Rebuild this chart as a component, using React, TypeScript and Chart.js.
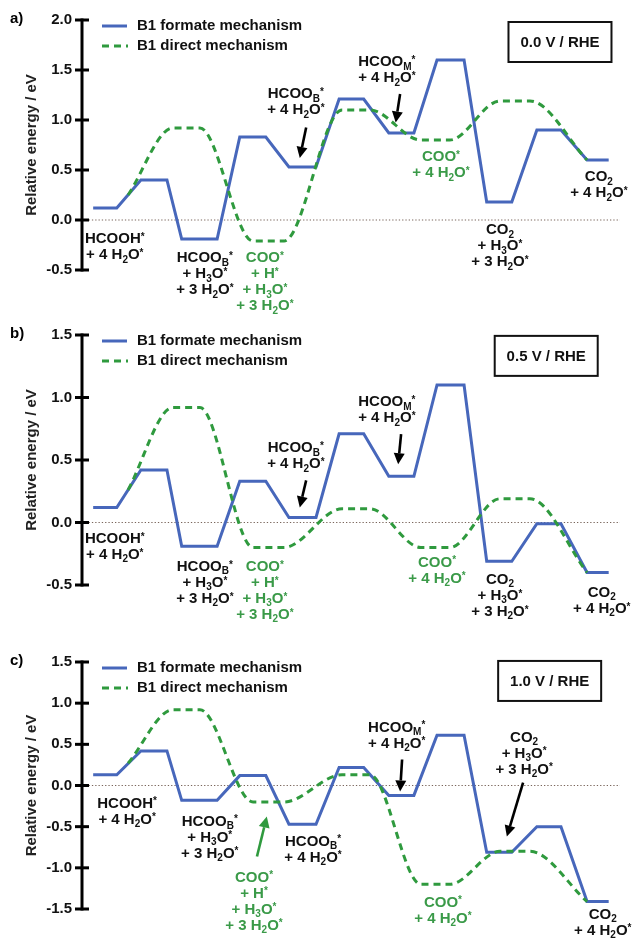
import React, { useEffect, useRef } from "react";
import { Chart, registerables } from "chart.js";
Chart.register(...registerables);

// ---- shared reaction-coordinate data ----
const levelLeft = [-0.24, 0.73, 1.56, 2.74, 3.74, 4.76, 5.77, 6.75, 7.76, 8.78, 9.8];
const levelRight = [0.24, 1.26, 2.28, 3.27, 4.29, 5.26, 6.28, 7.3, 8.27, 9.27, 10.24];
const directX = [0.47, 1.38, 1.93, 3.01, 3.64, 4.82, 5.39, 6.42, 7.01, 8.03, 8.64, 9.8];

// ---- panel a (0.0 V) ----
const formateA = [0.12, 0.4, -0.19, 0.83, 0.53, 1.21, 0.87, 1.6, 0.18, 0.9, 0.6];
const directA = [0.25, 0.92, 0.92, -0.21, -0.21, 1.1, 1.1, 0.8, 0.8, 1.19, 1.19, 0.6];
const ticksA = [-0.5, 0.0, 0.5, 1.0, 1.5, 2.0];
// ---- panel b (0.5 V) ----
const formateB = [0.12, 0.42, -0.19, 0.33, 0.04, 0.71, 0.37, 1.1, -0.31, -0.01, -0.4];
const directB = [0.26, 0.92, 0.92, -0.2, -0.2, 0.11, 0.11, -0.2, -0.2, 0.19, 0.19, -0.4];
const ticksB = [-0.5, 0.0, 0.5, 1.0, 1.5];
// ---- panel c (1.0 V) ----
const formateC = [0.13, 0.42, -0.18, 0.12, -0.47, 0.22, -0.12, 0.61, -0.81, -0.5, -1.41];
const directC = [0.27, 0.92, 0.92, -0.2, -0.2, 0.13, 0.13, -1.2, -1.2, -0.8, -0.8, -1.41];
const ticksC = [-1.5, -1.0, -0.5, 0.0, 0.5, 1.0, 1.5];

const seriesNames = ["B1 formate mechanism", "B1 direct mechanism"];
const panelLetters = ["a)", "b)", "c)"];
const potentials = ["0.0 V / RHE", "0.5 V / RHE", "1.0 V / RHE"];

const L_HCOOH = ["HCOOH^*", "+ 4 H_2O^*"];
const L_HCOOB3 = ["HCOO_B^*", "+ H_3O^*", "+ 3 H_2O^*"];
const L_COO4 = ["COO^*", "+ H^*", "+ H_3O^*", "+ 3 H_2O^*"];
const L_HCOOB2 = ["HCOO_B^*", "+ 4 H_2O^*"];
const L_HCOOM = ["HCOO_M^*", "+ 4 H_2O^*"];
const L_COO2 = ["COO^*", "+ 4 H_2O^*"];
const L_CO2_3 = ["CO_2", "+ H_3O^*", "+ 3 H_2O^*"];
const L_CO2_2 = ["CO_2", "+ 4 H_2O^*"];

const labelsA = [
  { x: 0.2, y: -0.19, lines: L_HCOOH, g: false },
  { x: 2.03, y: -0.38, lines: L_HCOOB3, g: false },
  { x: 3.25, y: -0.38, lines: L_COO4, g: true },
  { x: 3.88, y: 1.26, lines: L_HCOOB2, g: false },
  { x: 5.73, y: 1.58, lines: L_HCOOM, g: false },
  { x: 6.83, y: 0.63, lines: L_COO2, g: true },
  { x: 8.03, y: -0.1, lines: L_CO2_3, g: false },
  { x: 10.04, y: 0.43, lines: L_CO2_2, g: false },
];
const arrowsA = [
  { x1: 4.09, y1: 0.925, x2: 3.96, y2: 0.62, g: false },
  { x1: 6.0, y1: 1.26, x2: 5.91, y2: 0.975, g: false },
];
const labelsB = [
  { x: 0.2, y: -0.13, lines: L_HCOOH, g: false },
  { x: 2.03, y: -0.353, lines: L_HCOOB3, g: false },
  { x: 3.25, y: -0.353, lines: L_COO4, g: true },
  { x: 3.88, y: 0.594, lines: L_HCOOB2, g: false },
  { x: 5.73, y: 0.964, lines: L_HCOOM, g: false },
  { x: 6.75, y: -0.32, lines: L_COO2, g: true },
  { x: 8.03, y: -0.458, lines: L_CO2_3, g: false },
  { x: 10.1, y: -0.562, lines: L_CO2_2, g: false },
];
const arrowsB = [
  { x1: 4.09, y1: 0.337, x2: 3.96, y2: 0.12, g: false },
  { x1: 6.02, y1: 0.707, x2: 5.96, y2: 0.466, g: false },
];
const labelsC = [
  { x: 0.45, y: -0.219, lines: L_HCOOH, g: false },
  { x: 2.13, y: -0.437, lines: L_HCOOB3, g: false },
  { x: 3.03, y: -1.118, lines: L_COO4, g: true },
  { x: 4.23, y: -0.68, lines: L_HCOOB2, g: false },
  { x: 5.93, y: 0.705, lines: L_HCOOM, g: false },
  { x: 8.52, y: 0.583, lines: L_CO2_3, g: false },
  { x: 6.87, y: -1.42, lines: L_COO2, g: true },
  { x: 10.12, y: -1.567, lines: L_CO2_2, g: false },
];
const arrowsC = [
  { x1: 3.09, y1: -0.863, x2: 3.29, y2: -0.377, g: true },
  { x1: 6.04, y1: 0.316, x2: 6.0, y2: -0.073, g: false },
  { x1: 8.5, y1: 0.036, x2: 8.17, y2: -0.62, g: false },
];

const BLUE = "#4767bb";
const GREEN = "#2f9a3e";
const GREEN_TEXT = "#3a9a48";
const FONT = '"Liberation Sans", Arial, Helvetica, sans-serif';

const panels = [
  { formate: formateA, direct: directA, ticks: ticksA, labels: labelsA, arrows: arrowsA, box: { x: 9.25, y: 1.78 }, top: 0, height: 315, padTop: 20, padBottom: 45 },
  { formate: formateB, direct: directB, ticks: ticksB, labels: labelsB, arrows: arrowsB, box: { x: 8.97, y: 1.333 }, top: 315, height: 313, padTop: 20, padBottom: 43 },
  { formate: formateC, direct: directC, ticks: ticksC, labels: labelsC, arrows: arrowsC, box: { x: 9.04, y: 1.27 }, top: 628, height: 310, padTop: 34, padBottom: 29 },
];

function parseRich(text: string) {
  const segs: { t: string; k: string }[] = [];
  for (let i = 0; i < text.length; i++) {
    const c = text[i];
    if (c === "_" || c === "^") {
      segs.push({ t: text[i + 1], k: c === "_" ? "sub" : "sup" });
      i++;
    } else {
      const last = segs[segs.length - 1];
      if (last && last.k === "n") last.t += c;
      else segs.push({ t: c, k: "n" });
    }
  }
  return segs;
}

function drawRich(ctx: CanvasRenderingContext2D, text: string, cx: number, cy: number, size: number, color: string) {
  const segs = parseRich(text);
  const big = `bold ${size}px ${FONT}`;
  const small = `bold ${Math.round(size * 0.68)}px ${FONT}`;
  let total = 0;
  const widths = segs.map((s) => {
    ctx.font = s.k === "n" ? big : small;
    const w = ctx.measureText(s.t).width;
    total += w;
    return w;
  });
  let x = cx - total / 2;
  ctx.fillStyle = color;
  ctx.textAlign = "left";
  ctx.textBaseline = "middle";
  segs.forEach((s, i) => {
    ctx.font = s.k === "n" ? big : small;
    let dy = 0;
    if (s.k === "sub") dy = size * 0.32;
    if (s.k === "sup") dy = -size * 0.12;
    ctx.fillText(s.t, x, cy + dy);
    x += widths[i];
  });
}

function drawArrow(ctx: CanvasRenderingContext2D, x1: number, y1: number, x2: number, y2: number, color: string) {
  const ang = Math.atan2(y2 - y1, x2 - x1);
  const hl = 11;
  const hw = 5.5;
  const bx = x2 - hl * Math.cos(ang);
  const by = y2 - hl * Math.sin(ang);
  ctx.save();
  ctx.strokeStyle = color;
  ctx.fillStyle = color;
  ctx.lineWidth = 2.6;
  ctx.setLineDash([]);
  ctx.beginPath();
  ctx.moveTo(x1, y1);
  ctx.lineTo(bx, by);
  ctx.stroke();
  ctx.beginPath();
  ctx.moveTo(x2, y2);
  ctx.lineTo(bx + hw * Math.sin(ang), by - hw * Math.cos(ang));
  ctx.lineTo(bx - hw * Math.sin(ang), by + hw * Math.cos(ang));
  ctx.closePath();
  ctx.fill();
  ctx.restore();
}

function Panel({ idx }: { idx: number }) {
  const ref = useRef<HTMLCanvasElement | null>(null);
  const p = panels[idx];
  useEffect(() => {
    if (!ref.current) return;
    const formatePts: { x: number; y: number }[] = [];
    p.formate.forEach((e, i) => {
      formatePts.push({ x: levelLeft[i], y: e });
      formatePts.push({ x: levelRight[i], y: e });
    });
    const directPts = p.direct.map((e, i) => ({ x: directX[i], y: e }));

    const decor = {
      id: "decor",
      beforeDatasetsDraw(chart: any) {
        const { ctx, chartArea, scales } = chart;
        const y0 = scales.y.getPixelForValue(0);
        ctx.save();
        ctx.strokeStyle = "#7a665c";
        ctx.lineWidth = 1.2;
        ctx.setLineDash([1.3, 2]);
        ctx.beginPath();
        ctx.moveTo(chartArea.left, y0);
        ctx.lineTo(chartArea.right, y0);
        ctx.stroke();
        ctx.restore();
      },
      afterDraw(chart: any) {
        const { ctx, chartArea, scales } = chart;
        const xs = scales.x;
        const ys = scales.y;
        ctx.save();
        // axis line and crossing ticks
        ctx.strokeStyle = "#000";
        ctx.lineWidth = 3;
        ctx.setLineDash([]);
        const top = ys.getPixelForValue(p.ticks[p.ticks.length - 1]);
        const bot = ys.getPixelForValue(p.ticks[0]);
        ctx.beginPath();
        ctx.moveTo(chartArea.left, top - 1.5);
        ctx.lineTo(chartArea.left, bot + 1.5);
        ctx.stroke();
        p.ticks.forEach((t) => {
          const y = ys.getPixelForValue(t);
          ctx.beginPath();
          ctx.moveTo(chartArea.left - 7, y);
          ctx.lineTo(chartArea.left + 7, y);
          ctx.stroke();
        });
        // panel letter
        ctx.fillStyle = "#000";
        ctx.font = `bold 15px ${FONT}`;
        ctx.textAlign = "left";
        ctx.textBaseline = "middle";
        ctx.fillText(panelLetters[idx], 10, chartArea.top - 1);
        // legend
        const ly1 = chartArea.top + 6;
        const ly2 = chartArea.top + 26;
        ctx.lineWidth = 3;
        ctx.strokeStyle = BLUE;
        ctx.beginPath();
        ctx.moveTo(102, ly1);
        ctx.lineTo(127, ly1);
        ctx.stroke();
        ctx.strokeStyle = GREEN;
        ctx.setLineDash([7, 5]);
        ctx.beginPath();
        ctx.moveTo(102, ly2);
        ctx.lineTo(128, ly2);
        ctx.stroke();
        ctx.setLineDash([]);
        ctx.fillStyle = "#111";
        ctx.font = `bold 15px ${FONT}`;
        ctx.fillText(seriesNames[0], 137, ly1);
        ctx.fillText(seriesNames[1], 137, ly2);
        // potential box
        const bx = xs.getPixelForValue(p.box.x);
        const by = ys.getPixelForValue(p.box.y);
        ctx.lineWidth = 2;
        ctx.strokeStyle = "#111";
        ctx.strokeRect(bx - 51.5, by - 20, 103, 40);
        ctx.textAlign = "center";
        ctx.fillText(potentials[idx], bx, by + 1);
        // labels
        p.labels.forEach((lb) => {
          const cx = xs.getPixelForValue(lb.x);
          const cy = ys.getPixelForValue(lb.y);
          lb.lines.forEach((ln, k) => {
            drawRich(ctx, ln, cx, cy + k * 16, 15, lb.g ? GREEN_TEXT : "#111");
          });
        });
        // arrows
        p.arrows.forEach((a) => {
          drawArrow(
            ctx,
            xs.getPixelForValue(a.x1),
            ys.getPixelForValue(a.y1),
            xs.getPixelForValue(a.x2),
            ys.getPixelForValue(a.y2),
            a.g ? "#2f9a3e" : "#000"
          );
        });
        ctx.restore();
      },
    };

    const chart = new Chart(ref.current, {
      type: "line",
      data: {
        datasets: [
          {
            label: seriesNames[1],
            data: directPts,
            borderColor: GREEN,
            borderWidth: 3,
            borderDash: [7, 5],
            pointRadius: 0,
            cubicInterpolationMode: "monotone",
            fill: false,
            clip: false as any,
          },
          {
            label: seriesNames[0],
            data: formatePts,
            borderColor: BLUE,
            borderWidth: 3,
            pointRadius: 0,
            tension: 0,
            fill: false,
            clip: false as any,
          },
        ],
      },
      options: {
        animation: false,
        responsive: false,
        devicePixelRatio: 1,
        layout: { padding: { top: p.padTop, bottom: p.padBottom, left: 0, right: 14 } },
        plugins: { legend: { display: false }, tooltip: { enabled: false } },
        scales: {
          x: { type: "linear", min: -0.467, max: 10.47, display: false },
          y: {
            type: "linear",
            min: p.ticks[0],
            max: p.ticks[p.ticks.length - 1],
            afterBuildTicks: (scale: any) => {
              scale.ticks = p.ticks.map((v) => ({ value: v }));
            },
            afterFit: (scale: any) => {
              scale.width = 82;
            },
            grid: { display: false, drawTicks: false },
            border: { display: false },
            ticks: {
              padding: 10,
              color: "#111",
              font: { family: FONT, size: 15, weight: "bold" },
              callback: (v: any) => Number(v).toFixed(1),
            },
            title: {
              display: true,
              text: "Relative energy / eV",
              color: "#222",
              font: { family: FONT, size: 15, weight: "bold" },
              padding: { top: 23, bottom: 0 },
            },
          },
        },
      },
      plugins: [decor],
    } as any);
    return () => chart.destroy();
  }, []);
  return (
    <canvas
      ref={ref}
      width={634}
      height={p.height}
      style={{ position: "absolute", left: 0, top: p.top, width: 634, height: p.height }}
    />
  );
}

export default function App() {
  return (
    <div style={{ position: "absolute", left: 0, top: 0, width: 634, height: 938, background: "#fff" }}>
      <Panel idx={0} />
      <Panel idx={1} />
      <Panel idx={2} />
    </div>
  );
}
